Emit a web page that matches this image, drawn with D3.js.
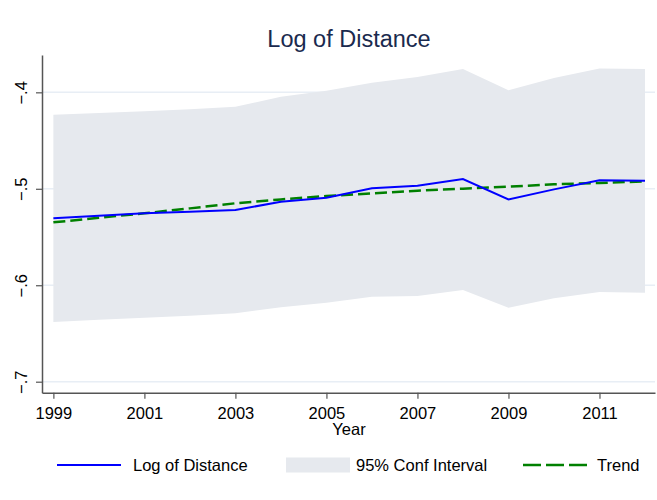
<!DOCTYPE html>
<html><head><meta charset="utf-8">
<script src="https://cdn.jsdelivr.net/npm/d3@7"></script>
<style>body{margin:0;background:#fff}svg{display:block;font-family:"Liberation Sans",Arial,sans-serif}</style>
</head><body>
<svg id="c" width="657" height="500"></svg>
<script>
const years = [1999,2000,2001,2002,2003,2004,2005,2006,2007,2008,2009,2010,2011,2012];
const logDist = [-0.5306,-0.528,-0.5254,-0.5238,-0.522,-0.5134,-0.5093,-0.4995,-0.4968,-0.4899,-0.511,-0.5006,-0.4912,-0.4916];
const ciUpper = [-0.4232,-0.4215,-0.4197,-0.4176,-0.4149,-0.4046,-0.3984,-0.39,-0.3841,-0.3759,-0.3979,-0.3852,-0.3752,-0.3759];
const ciLower = [-0.6381,-0.6357,-0.6336,-0.6316,-0.6291,-0.6229,-0.6181,-0.612,-0.6112,-0.605,-0.6233,-0.6135,-0.607,-0.6077];
const trend = [-0.5348,-0.530,-0.5254,-0.5203,-0.515,-0.511,-0.5075,-0.5047,-0.502,-0.4999,-0.4978,-0.4954,-0.494,-0.4923];
const xTicks = [1999,2001,2003,2005,2007,2009,2011];
const yTicks = [-0.7,-0.6,-0.5,-0.4];
const title = "Log of Distance";
const xTitle = "Year";
const legendLabels = ["Log of Distance","95% Conf Interval","Trend"];

const svg = d3.select("#c");
const x = d3.scaleLinear().domain([1998.75, 2012.22]).range([42, 655]);
const y = d3.scaleLinear().domain([-0.7114, -0.3613]).range([392.7, 55]);
const data = years.map((yr,i)=>({yr, v:logDist[i], lo:ciLower[i], hi:ciUpper[i], t:trend[i]}));

// gridlines
svg.append("g").selectAll("line").data(yTicks).join("line")
  .attr("x1", 42).attr("x2", 655)
  .attr("y1", d=>y(d)).attr("y2", d=>y(d))
  .attr("stroke", "#e8eef5").attr("stroke-width", 1.5);

// CI band
svg.append("path").datum(data)
  .attr("d", d3.area().x(d=>x(d.yr)).y0(d=>y(d.lo)).y1(d=>y(d.hi)))
  .attr("fill", "#e6e9ee");

// trend
svg.append("path").datum(data)
  .attr("d", d3.line().x(d=>x(d.yr)).y(d=>y(d.t)))
  .attr("fill","none").attr("stroke","#008000").attr("stroke-width",2.5)
  .attr("stroke-dasharray","12,5");

// main line
svg.append("path").datum(data)
  .attr("d", d3.line().x(d=>x(d.yr)).y(d=>y(d.v)))
  .attr("fill","none").attr("stroke","#0000ff").attr("stroke-width",2);

// axes
const fmtY = d => d3.format(".1f")(d).replace("0.", ".");
const yAxis = svg.append("g").attr("transform","translate(42,0)")
  .call(d3.axisLeft(y).tickValues(yTicks).tickFormat(fmtY).tickSize(6).tickSizeOuter(0));
yAxis.select(".domain").attr("stroke","#555").attr("stroke-width",1.5);
yAxis.selectAll(".tick line").attr("stroke","#555").attr("stroke-width",1.2);
yAxis.selectAll(".tick text").attr("font-size",16.5).attr("fill","#000")
  .attr("text-anchor","middle").attr("transform","rotate(-90)")
  .attr("x",0).attr("y",-15).attr("dy",0);

const xAxis = svg.append("g").attr("transform","translate(0,392.7)")
  .call(d3.axisBottom(x).tickValues(xTicks).tickFormat(d3.format("d")).tickSize(6).tickSizeOuter(0));
xAxis.select(".domain").attr("stroke","#555").attr("stroke-width",1.5);
xAxis.selectAll(".tick line").attr("stroke","#555").attr("stroke-width",1.2);
xAxis.selectAll(".tick text").attr("font-size",16.5).attr("fill","#000").attr("y",26).attr("dy",0);

// titles
svg.append("text").attr("x",349).attr("y",47).attr("text-anchor","middle")
  .attr("font-size",23.5).attr("fill","#1a2a4e").text(title);
svg.append("text").attr("x",349).attr("y",435).attr("text-anchor","middle")
  .attr("font-size",16.5).attr("fill","#000").text(xTitle);

// legend
const lg = svg.append("g");
const ly = 465;
lg.append("line").attr("x1",57).attr("x2",121).attr("y1",ly).attr("y2",ly)
  .attr("stroke","#0000ff").attr("stroke-width",2);
lg.append("text").attr("x",133).attr("y",ly+6).attr("font-size",16.5).text(legendLabels[0]);
lg.append("rect").attr("x",286).attr("y",457.5).attr("width",64).attr("height",15).attr("fill","#e6e9ee");
lg.append("text").attr("x",356).attr("y",ly+6).attr("font-size",16.5).text(legendLabels[1]);
lg.append("line").attr("x1",523).attr("x2",587).attr("y1",ly).attr("y2",ly)
  .attr("stroke","#008000").attr("stroke-width",2.5).attr("stroke-dasharray","18,5");
lg.append("text").attr("x",597).attr("y",ly+6).attr("font-size",16.5).text(legendLabels[2]);
</script>
</body></html>
